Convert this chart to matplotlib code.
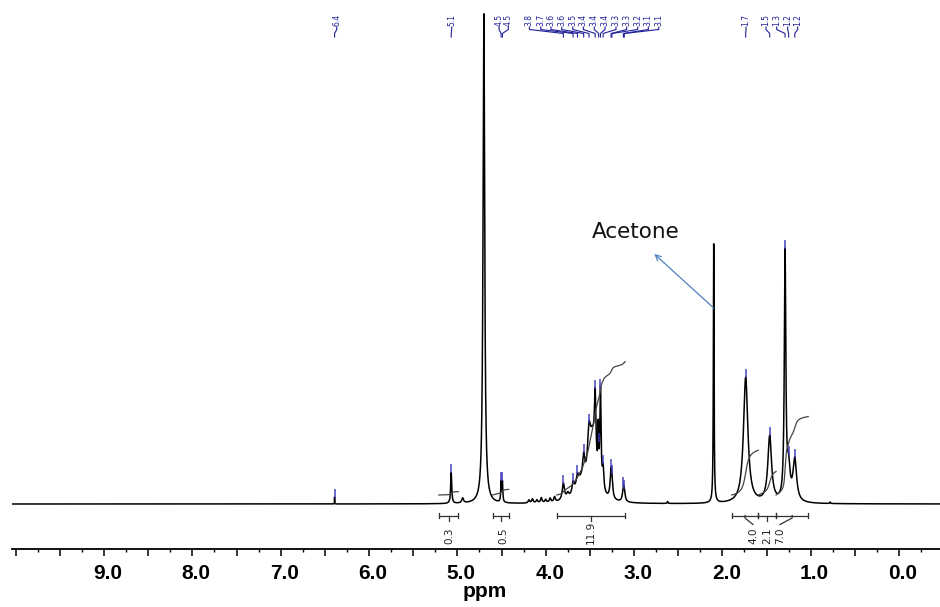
import numpy as np
import matplotlib
matplotlib.use("Agg")
import matplotlib.pyplot as plt
from matplotlib.ticker import MultipleLocator, FuncFormatter
import matplotlib.transforms as mtransforms

# ---- spectrum: Lorentzian lines (centre ppm, amplitude, half width ppm) ----
line_ppm = [4.700, 6.390, 5.070, 4.940, 4.505, 4.490,
            4.19, 4.15, 4.10, 4.05, 4.00, 3.95, 3.90,
            3.470, 3.620,
            3.800, 3.750, 3.690, 3.640, 3.570, 3.510, 3.440, 3.405, 3.380,
            3.350, 3.260, 3.248, 3.120, 3.108,
            2.620, 2.098, 1.736, 1.464, 1.290, 1.250, 1.180, 0.780]
line_amp = [490, 7, 31, 5, 20, 20,
            3, 4, 3, 5, 3, 4, 5,
            60, 15,
            17, 5, 11, 9, 26, 38, 64, 45, 95,
            22, 28, 10, 14, 6,
            2, 259, 126, 66, 246, 30, 42, 1.5]
line_hw = [0.011, 0.0015, 0.007, 0.012, 0.005, 0.005,
           0.01, 0.01, 0.01, 0.01, 0.01, 0.01, 0.01,
           0.050, 0.060,
           0.015, 0.015, 0.015, 0.015, 0.016, 0.020, 0.010, 0.005, 0.008,
           0.010, 0.012, 0.010, 0.012, 0.010,
           0.005, 0.0045, 0.030, 0.025, 0.010, 0.020, 0.024, 0.005]

# ---- peak picks ----
pick_ppm = [6.39, 5.07, 4.505, 4.49,
            3.80, 3.69, 3.64, 3.57, 3.51, 3.44, 3.40, 3.38, 3.35, 3.26, 3.25, 3.12, 3.11,
            1.736, 1.464, 1.29, 1.25, 1.18]
pick_text = ["6.4", "5.1", "4.5", "4.5",
             "3.8", "3.7", "3.6", "3.6", "3.5", "3.4", "3.4", "3.4", "3.3", "3.3", "3.2", "3.1", "3.1",
             "1.7", "1.5", "1.3", "1.2", "1.2"]
# where each pick label sits along the top (ppm)
pick_label_ppm = [6.366, 5.064, 4.528, 4.423,
                  4.185, 4.056, 3.940, 3.819, 3.694, 3.574, 3.450, 3.328, 3.204, 3.083,
                  2.958, 2.838, 2.720,
                  1.732, 1.506, 1.385, 1.260, 1.147]

# ---- integrals ----
integral_value = [0.3, 0.5, 11.9, 4.0, 2.1, 7.0]
integral_start = [5.21, 4.60, 3.875, 1.894, 1.593, 1.392]
integral_end = [4.99, 4.42, 3.10, 1.593, 1.392, 1.027]
integral_label_ppm = [5.094, 4.483, 3.487, 1.653, 1.495, 1.347]

x_ticks_major = 0.5
xlim = (10.042, -0.464)

x = np.linspace(xlim[1], xlim[0], 40000)[::-1]
spec = np.zeros_like(x)
for c, a, w in zip(line_ppm, line_amp, line_hw):
    spec += a * w ** 2 / ((x - c) ** 2 + w ** 2)

fig = plt.figure(figsize=(9.4, 6.07), dpi=100)
ax = fig.add_axes([12 / 940, 0, 928 / 940, 1])
ax.set_xlim(*xlim)
ax.set_ylim(-103, 504)

ax.plot(x, spec, color="black", lw=1.1, zorder=3)

# integral curves and brackets
int_scale = 11.2
int_offset = 9
for v, s, e, lp in zip(integral_value, integral_start, integral_end, integral_label_ppm):
    m = (x <= s) & (x >= e)
    xs = x[m]
    cum = np.cumsum(spec[m])
    cum = cum / cum[-1] * v * int_scale + int_offset
    ax.plot(xs, cum, color="#444444", lw=0.9, zorder=4)
    yb = -11.5
    ax.plot([s, e], [yb, yb], color="#333333", lw=0.9)
    for xe in (s, e):
        ax.plot([xe, xe], [yb - 2.5, yb + 2.5], color="#333333", lw=0.9)
    mid = 0.5 * (s + e)
    if abs(mid - lp) < 0.03:
        ax.plot([mid, mid], [yb, yb - 5], color="#333333", lw=0.9)
    else:
        ax.plot([mid, mid, lp], [yb, yb - 2.5, yb - 9], color="#333333", lw=0.9)
    ax.text(lp, -40, f"{v:.1f}", rotation=90, ha="center", va="bottom",
            fontsize=7.5, color="#222222")

# peak picks along the top
navy = "#1f1f99"
for pp, pt, lp in zip(pick_ppm, pick_text, pick_label_ppm):
    ax.text(lp, 478, pt, rotation=90, ha="center", va="bottom", fontsize=5.5,
            color=navy)
    ax.plot([lp, lp, pp, pp], [477, 474.5, 470.5, 467], color=navy, lw=0.8)
    top = np.interp(pp, x[::-1], spec[::-1])
    ax.plot([pp, pp], [top, top + 7], color="#3a3ab8", lw=1.4, alpha=0.75, zorder=5)

# acetone annotation
acetone_ppm = 2.098
ax.annotate("", xy=(2.77, 250), xytext=(acetone_ppm, 196),
            arrowprops=dict(arrowstyle="->", color="#4f81bd", lw=0.9,
                            shrinkA=0, shrinkB=0, mutation_scale=10))
ax.text(3.48, 272, "Acetone", fontsize=15.5, ha="left", va="center", color="#111111")

# axis
for side in ("top", "left", "right"):
    ax.spines[side].set_visible(False)
ax.spines["bottom"].set_position(("data", -45))
ax.spines["bottom"].set_linewidth(1.3)
ax.yaxis.set_visible(False)
ax.xaxis.set_major_locator(MultipleLocator(x_ticks_major))
ax.xaxis.set_minor_locator(MultipleLocator(x_ticks_major / 2))
ax.xaxis.set_major_formatter(FuncFormatter(
    lambda v, p: f"{v:.1f}" if abs(v - round(v)) < 1e-6 and 0 <= v <= 9 else ""))
ax.tick_params(axis="x", which="major", length=5, width=1.1, direction="out",
               pad=6, labelsize=15)
ax.tick_params(axis="x", which="minor", length=2.5, width=1.0, direction="out")
offset = mtransforms.ScaledTranslation(4 / 100, 0, fig.dpi_scale_trans)
for lab in ax.get_xticklabels():
    lab.set_fontweight("bold")
    lab.set_fontfamily("Liberation Sans")
    lab.set_transform(lab.get_transform() + offset)
ax.set_xlabel("ppm", fontsize=15, fontweight="bold", family="Liberation Sans", labelpad=0)
ax.xaxis.set_label_coords((485 - 12) / 928, 25 / 607)

fig.savefig("out.png", dpi=100)
